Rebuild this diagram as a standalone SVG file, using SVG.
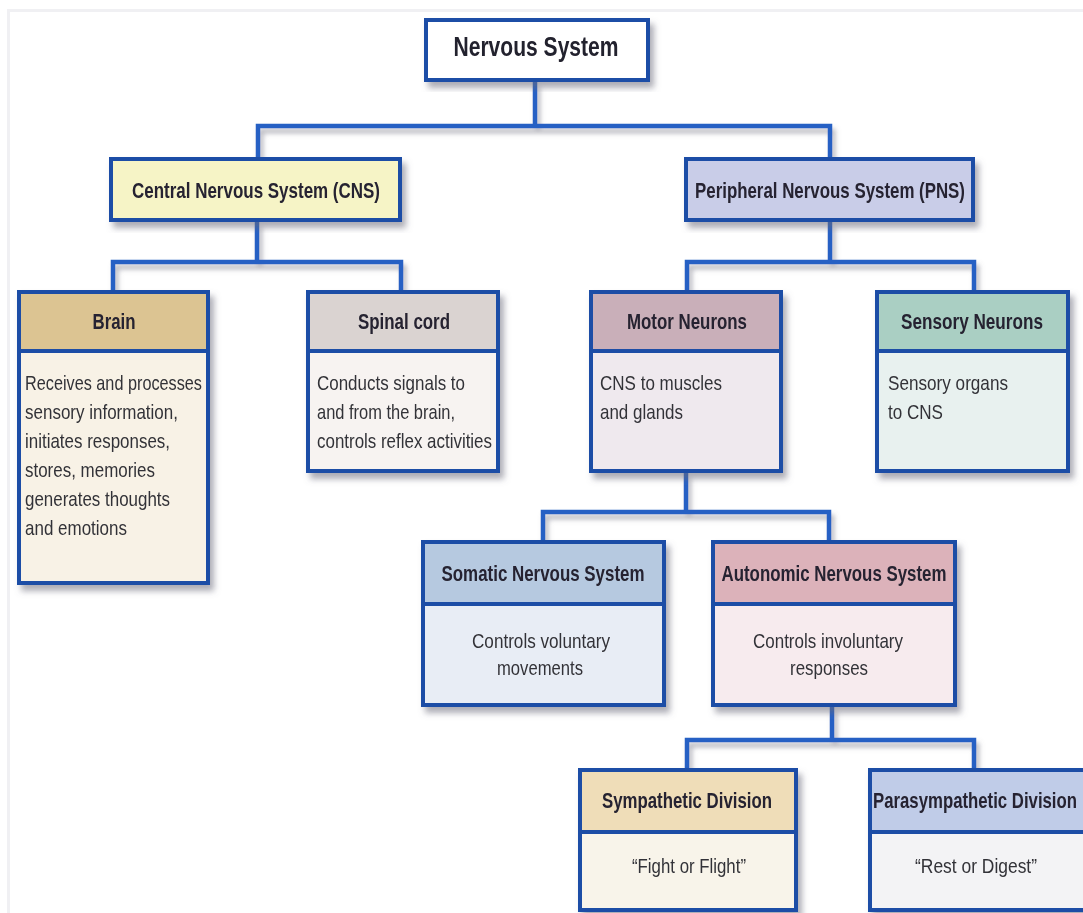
<svg xmlns="http://www.w3.org/2000/svg" width="1083" height="913" viewBox="0 0 1083 913">
<defs>
<filter id="sh" x="-10%" y="-10%" width="130%" height="130%">
<feDropShadow dx="4" dy="6" stdDeviation="3" flood-color="#6a6a7a" flood-opacity="0.55"/>
</filter>
<filter id="lsh" x="-5%" y="-20%" width="110%" height="160%">
<feDropShadow dx="3" dy="5" stdDeviation="2.5" flood-color="#6a6a7a" flood-opacity="0.5"/>
</filter>
</defs>
<style>
.box{stroke:#1e4ea6;stroke-width:4}
.div{stroke:#1e4ea6;stroke-width:4}
.con{fill:none;stroke:#2760c4;stroke-width:4.5;stroke-linejoin:miter}
.h{font-family:"Liberation Sans",Arial,sans-serif;font-weight:bold;font-size:22px;fill:#262430}
.t{font-family:"Liberation Sans",Arial,sans-serif;font-size:21px;fill:#333338}
.title{font-family:"Liberation Sans",Arial,sans-serif;font-weight:bold;font-size:28px;fill:#24222e}
</style>
<rect x="0" y="0" width="1083" height="913" fill="#ffffff"/>
<path d="M8.5 913 V10.5 H1083" fill="none" stroke="#f0f0f3" stroke-width="3"/>

<g id="connectors" filter="url(#lsh)">
<path class="con" d="M535 82 V126 M258 157 V126 H830 V157"/>
<path class="con" d="M257 222 V262 M113 290 V262 H401 V290"/>
<path class="con" d="M830 222 V262 M687 290 V262 H974 V290"/>
<path class="con" d="M686 473 V512 M543 540 V512 H829 V540"/>
<path class="con" d="M832 707 V740 M687 768 V740 H974 V768"/>
</g>

<g id="nervous-system" filter="url(#sh)">
<rect class="box" x="426" y="20" width="222" height="60" fill="#ffffff"/>
<text class="title" x="536" y="56" text-anchor="middle" textLength="165" lengthAdjust="spacingAndGlyphs">Nervous System</text>
</g>

<g id="cns" filter="url(#sh)">
<rect class="box" x="111" y="159" width="289" height="61" fill="#f6f4c6"/>
<text class="h" x="256" y="198" text-anchor="middle" textLength="248" lengthAdjust="spacingAndGlyphs">Central Nervous System (CNS)</text>
</g>

<g id="pns" filter="url(#sh)">
<rect class="box" x="686" y="159" width="287" height="61" fill="#c9cde8"/>
<text class="h" x="830" y="198" text-anchor="middle" textLength="270" lengthAdjust="spacingAndGlyphs">Peripheral Nervous System (PNS)</text>
</g>

<g id="brain" filter="url(#sh)">
<rect class="box" x="19" y="292" width="189" height="291" fill="#f8f2e6"/>
<rect x="21" y="294" width="185" height="57" fill="#dcc492"/>
<line class="div" x1="19" y1="351" x2="208" y2="351"/>
<text class="h" x="114" y="329" text-anchor="middle" textLength="43" lengthAdjust="spacingAndGlyphs">Brain</text>
<text class="t" x="25" y="390" textLength="177" lengthAdjust="spacingAndGlyphs">Receives and processes</text>
<text class="t" x="25" y="419" textLength="153" lengthAdjust="spacingAndGlyphs">sensory information,</text>
<text class="t" x="25" y="448" textLength="145" lengthAdjust="spacingAndGlyphs">initiates responses,</text>
<text class="t" x="25" y="477" textLength="130" lengthAdjust="spacingAndGlyphs">stores, memories</text>
<text class="t" x="25" y="506" textLength="145" lengthAdjust="spacingAndGlyphs">generates thoughts</text>
<text class="t" x="25" y="535" textLength="102" lengthAdjust="spacingAndGlyphs">and emotions</text>
</g>

<g id="spinal-cord" filter="url(#sh)">
<rect class="box" x="308" y="292" width="190" height="179" fill="#f7f3f1"/>
<rect x="310" y="294" width="186" height="57" fill="#dad3d1"/>
<line class="div" x1="308" y1="351" x2="498" y2="351"/>
<text class="h" x="404" y="329" text-anchor="middle" textLength="92" lengthAdjust="spacingAndGlyphs">Spinal cord</text>
<text class="t" x="317" y="390" textLength="148" lengthAdjust="spacingAndGlyphs">Conducts signals to</text>
<text class="t" x="317" y="419" textLength="138" lengthAdjust="spacingAndGlyphs">and from the brain,</text>
<text class="t" x="317" y="448" textLength="175" lengthAdjust="spacingAndGlyphs">controls reflex activities</text>
</g>

<g id="motor-neurons" filter="url(#sh)">
<rect class="box" x="591" y="292" width="190" height="179" fill="#efe9ee"/>
<rect x="593" y="294" width="186" height="57" fill="#c9afb9"/>
<line class="div" x1="591" y1="351" x2="781" y2="351"/>
<text class="h" x="687" y="329" text-anchor="middle" textLength="120" lengthAdjust="spacingAndGlyphs">Motor Neurons</text>
<text class="t" x="600" y="390" textLength="122" lengthAdjust="spacingAndGlyphs">CNS to muscles</text>
<text class="t" x="600" y="419" textLength="83" lengthAdjust="spacingAndGlyphs">and glands</text>
</g>

<g id="sensory-neurons" filter="url(#sh)">
<rect class="box" x="877" y="292" width="191" height="179" fill="#e8f1ef"/>
<rect x="879" y="294" width="187" height="57" fill="#aacfc3"/>
<line class="div" x1="877" y1="351" x2="1068" y2="351"/>
<text class="h" x="972" y="329" text-anchor="middle" textLength="142" lengthAdjust="spacingAndGlyphs">Sensory Neurons</text>
<text class="t" x="888" y="390" textLength="120" lengthAdjust="spacingAndGlyphs">Sensory organs</text>
<text class="t" x="888" y="419" textLength="55" lengthAdjust="spacingAndGlyphs">to CNS</text>
</g>

<g id="somatic" filter="url(#sh)">
<rect class="box" x="423" y="542" width="241" height="163" fill="#e8edf5"/>
<rect x="425" y="544" width="237" height="60" fill="#b6c9e0"/>
<line class="div" x1="423" y1="604" x2="664" y2="604"/>
<text class="h" x="543" y="581" text-anchor="middle" textLength="203" lengthAdjust="spacingAndGlyphs">Somatic Nervous System</text>
<text class="t" x="541" y="648" text-anchor="middle" textLength="138" lengthAdjust="spacingAndGlyphs">Controls voluntary</text>
<text class="t" x="540" y="675" text-anchor="middle" textLength="86" lengthAdjust="spacingAndGlyphs">movements</text>
</g>

<g id="autonomic" filter="url(#sh)">
<rect class="box" x="713" y="542" width="242" height="163" fill="#f7ebee"/>
<rect x="715" y="544" width="238" height="60" fill="#dcb2ba"/>
<line class="div" x1="713" y1="604" x2="955" y2="604"/>
<text class="h" x="834" y="581" text-anchor="middle" textLength="225" lengthAdjust="spacingAndGlyphs">Autonomic Nervous System</text>
<text class="t" x="828" y="648" text-anchor="middle" textLength="150" lengthAdjust="spacingAndGlyphs">Controls involuntary</text>
<text class="t" x="829" y="675" text-anchor="middle" textLength="78" lengthAdjust="spacingAndGlyphs">responses</text>
</g>

<g id="sympathetic" filter="url(#sh)">
<rect class="box" x="580" y="770" width="216" height="140" fill="#f8f4ea"/>
<rect x="582" y="772" width="212" height="60" fill="#efddb8"/>
<line class="div" x1="580" y1="832" x2="796" y2="832"/>
<text class="h" x="687" y="808" text-anchor="middle" textLength="170" lengthAdjust="spacingAndGlyphs">Sympathetic Division</text>
<text class="t" x="689" y="873" text-anchor="middle" textLength="114" lengthAdjust="spacingAndGlyphs">“Fight or Flight”</text>
</g>

<g id="parasympathetic" filter="url(#sh)">
<rect class="box" x="870" y="770" width="230" height="140" fill="#f3f3f5"/>
<rect x="872" y="772" width="226" height="60" fill="#c0cce8"/>
<line class="div" x1="870" y1="832" x2="1100" y2="832"/>
<text class="h" x="975" y="808" text-anchor="middle" textLength="204" lengthAdjust="spacingAndGlyphs">Parasympathetic Division</text>
<text class="t" x="976" y="873" text-anchor="middle" textLength="122" lengthAdjust="spacingAndGlyphs">“Rest or Digest”</text>
</g>
</svg>
